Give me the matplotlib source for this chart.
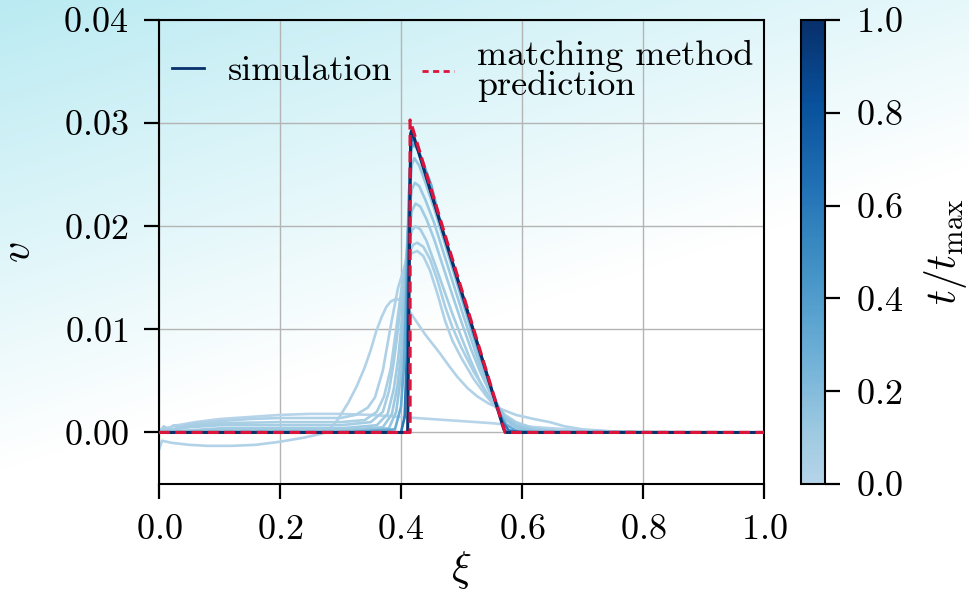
import numpy as np
import matplotlib
matplotlib.use("Agg")
import matplotlib.pyplot as plt
from matplotlib.colors import LinearSegmentedColormap, Normalize
from matplotlib.cm import ScalarMappable

plt.rcParams['font.family'] = ['cmr10', 'DejaVu Serif']
plt.rcParams['mathtext.fontset'] = 'cm'
plt.rcParams['axes.formatter.use_mathtext'] = True

# ---------------- data ----------------
times = [0.0, 0.02, 0.04, 0.06, 0.08, 0.10, 0.12, 0.14, 0.3, 0.6, 1.0]

xi_A = [0, 0.01, 0.03, 0.06, 0.1, 0.15, 0.2, 0.25, 0.3, 0.35, 0.4, 0.45, 0.5, 0.55, 0.6, 0.65, 0.7, 0.75, 0.8, 1.0]
v_A = [0.0002, 0.0004, 0.0007, 0.0010, 0.0013, 0.0015, 0.0017, 0.0018, 0.0018, 0.0017, 0.0015, 0.0013,
       0.0011, 0.0009, 0.0006, 0.0004, 0.0002, 0.0001, 0.0, 0.0]

xi_B = [0, 0.005, 0.02, 0.05, 0.08, 0.12, 0.16, 0.2, 0.24, 0.27, 0.28, 0.295, 0.313, 0.327, 0.34, 0.35, 0.359,
        0.368, 0.376, 0.383, 0.39, 0.396, 0.403, 0.41, 0.425, 0.44, 0.464, 0.48, 0.493, 0.51, 0.526, 0.545,
        0.564, 0.59, 0.62, 0.646, 0.67, 0.70, 0.75, 0.8, 1.0]
v_B = [-0.0017, -0.0008, -0.0010, -0.0012, -0.0013, -0.0013, -0.0012, -0.0009, -0.0005, -0.0001, 0.0002,
       0.0012, 0.0029, 0.0045, 0.0063, 0.0080, 0.0098, 0.0112, 0.0122, 0.0127, 0.0129, 0.0129, 0.0126,
       0.0121, 0.0108, 0.0095, 0.0077, 0.0064, 0.0054, 0.0043, 0.0035, 0.0028, 0.0023, 0.0017, 0.0013,
       0.0010, 0.0006, 0.0003, 0.0001, 0.0, 0.0]

xi_I1 = [0, 0.008, 0.016, 0.024, 0.035, 0.06, 0.1, 0.15, 0.2, 0.25, 0.3, 0.325, 0.345, 0.357, 0.37, 0.382,
         0.395, 0.408, 0.418, 0.427, 0.437, 0.448, 0.46, 0.473, 0.485, 0.5, 0.52, 0.54, 0.556, 0.572, 0.59,
         0.62, 0.66, 0.7, 1.0]
v_I1 = [0.0000, 0.0006, 0.0002, 0.0007, 0.0006, 0.0009, 0.0011, 0.0013, 0.0014, 0.0014, 0.0014, 0.0017,
        0.0024, 0.0034, 0.0060, 0.0100, 0.0140, 0.0165, 0.0174, 0.0176, 0.0171, 0.0157, 0.0135, 0.0108,
        0.0089, 0.0072, 0.0052, 0.0036, 0.0025, 0.0016, 0.0009, 0.0004, 0.0001, 0.0, 0.0]

xi_I2 = [0, 0.01, 0.02, 0.03, 0.05, 0.1, 0.2, 0.3, 0.34, 0.36, 0.372, 0.383, 0.392, 0.402, 0.412, 0.42,
         0.427, 0.437, 0.448, 0.46, 0.473, 0.485, 0.5, 0.52, 0.54, 0.556, 0.572, 0.59, 0.62, 0.66, 0.7, 1.0]
v_I2 = [0.0001, 0.0005, 0.0001, 0.0005, 0.0007, 0.0009, 0.0010, 0.0010, 0.0012, 0.0020, 0.0035, 0.0062,
        0.0100, 0.0145, 0.0172, 0.0182, 0.0184, 0.0180, 0.0168, 0.0148, 0.0122, 0.0102, 0.0082, 0.0059,
        0.0040, 0.0027, 0.0017, 0.0010, 0.0004, 0.0001, 0.0, 0.0]

xi_I3 = [0, 0.05, 0.1, 0.2, 0.3, 0.35, 0.37, 0.38, 0.388, 0.395, 0.403, 0.411, 0.418, 0.424, 0.432, 0.442,
         0.455, 0.47, 0.485, 0.5, 0.515, 0.53, 0.545, 0.56, 0.572, 0.59, 0.62, 0.66, 0.7, 1.0]
v_I3 = [0.0001, 0.0005, 0.0007, 0.0007, 0.0007, 0.0010, 0.0020, 0.0040, 0.0068, 0.0100, 0.0145, 0.0180,
        0.0196, 0.0200, 0.0197, 0.0186, 0.0165, 0.0140, 0.0115, 0.0092, 0.0070, 0.0050, 0.0034, 0.0022,
        0.0015, 0.0008, 0.0003, 0.0001, 0.0, 0.0]

xi_I4 = [0, 0.1, 0.2, 0.3, 0.36, 0.378, 0.388, 0.395, 0.4, 0.406, 0.412, 0.418, 0.424, 0.432, 0.442, 0.455,
         0.47, 0.485, 0.5, 0.515, 0.53, 0.545, 0.56, 0.572, 0.59, 0.62, 0.66, 1.0]
v_I4 = [0.0, 0.0004, 0.0004, 0.0004, 0.0007, 0.0018, 0.0042, 0.0070, 0.0100, 0.0145, 0.0190, 0.0215,
        0.0222, 0.0219, 0.0207, 0.0187, 0.0160, 0.0133, 0.0107, 0.0082, 0.0060, 0.0041, 0.0025, 0.0015,
        0.0007, 0.0002, 0.0, 0.0]

xi_I5 = [0, 0.1, 0.2, 0.3, 0.37, 0.385, 0.394, 0.4, 0.403, 0.408, 0.413, 0.418, 0.423, 0.43, 0.44, 0.455,
         0.47, 0.485, 0.5, 0.515, 0.53, 0.545, 0.56, 0.572, 0.59, 0.62, 0.66, 1.0]
v_I5 = [0.0, 0.0002, 0.0002, 0.0002, 0.0005, 0.0018, 0.0045, 0.0075, 0.0100, 0.0160, 0.0212, 0.0236,
        0.0242, 0.0239, 0.0226, 0.0203, 0.0175, 0.0147, 0.0119, 0.0092, 0.0066, 0.0044, 0.0026, 0.0014,
        0.0006, 0.0002, 0.0, 0.0]

xi_I6 = [0, 0.1, 0.2, 0.3, 0.38, 0.392, 0.4, 0.404, 0.406, 0.41, 0.414, 0.418, 0.422, 0.43, 0.44, 0.455,
         0.47, 0.485, 0.5, 0.515, 0.53, 0.545, 0.56, 0.572, 0.59, 0.62, 1.0]
v_I6 = [0.0, 0.0001, 0.0001, 0.0001, 0.0004, 0.0020, 0.0055, 0.0080, 0.0100, 0.0170, 0.0230, 0.0260,
        0.0266, 0.0259, 0.0243, 0.0217, 0.0188, 0.0159, 0.0130, 0.0101, 0.0073, 0.0047, 0.0026, 0.0013,
        0.0005, 0.0001, 0.0]

xi_I7 = [0, 0.3, 0.39, 0.400, 0.405, 0.409, 0.413, 0.417, 0.421, 0.43, 0.45, 0.47, 0.5, 0.53, 0.55, 0.565,
         0.575, 0.59, 0.62, 1.0]
v_I7 = [0.0, 0.0, 0.0003, 0.0025, 0.0065, 0.0140, 0.0230, 0.0275, 0.0280, 0.0272, 0.0240, 0.0192, 0.0133,
        0.0076, 0.0040, 0.0016, 0.0007, 0.0002, 0.0, 0.0]

xi_I8 = [0, 0.4, 0.406, 0.41, 0.413, 0.416, 0.419, 0.43, 0.47, 0.5, 0.53, 0.555, 0.568, 0.578, 0.6, 1.0]
v_I8 = [0.0, 0.0, 0.0015, 0.0080, 0.0200, 0.0278, 0.0288, 0.0271, 0.0193, 0.0136, 0.0079, 0.0032, 0.0010,
        0.0002, 0.0, 0.0]

xi_final = [0, 0.411, 0.413, 0.416, 0.418, 0.570, 0.574, 1.0]
v_final = [0.0, 0.0, 0.0120, 0.0290, 0.0293, 0.0003, 0.0, 0.0]

sim_xi = [xi_A, xi_B, xi_I1, xi_I2, xi_I3, xi_I4, xi_I5, xi_I6, xi_I7, xi_I8, xi_final]
sim_v = [v_A, v_B, v_I1, v_I2, v_I3, v_I4, v_I5, v_I6, v_I7, v_I8, v_final]

pred_xi = [0.0, 0.415, 0.415, 0.572, 1.0]
pred_v = [0.0, 0.0, 0.0303, 0.0, 0.0]

xticks = [0.0, 0.2, 0.4, 0.6, 0.8, 1.0]
yticks = [0.00, 0.01, 0.02, 0.03, 0.04]
cticks = [0.0, 0.2, 0.4, 0.6, 0.8, 1.0]

# ---------------- figure ----------------
W, H = 969, 606
fig = plt.figure(figsize=(W / 100, H / 100), dpi=100)
fig.patch.set_facecolor('white')

# background gradient (cyan top-left fading to white)
bg = fig.add_axes([0, 0, 1, 1], zorder=-10)
yy, xx = np.mgrid[0:H, 0:W]
s = np.clip(xx / 1500.0 + yy / 470.0, 0, 1)
c0 = np.array([0.73, 0.92, 0.95])
c1 = np.array([1.0, 1.0, 1.0])
img = c0[None, None, :] * (1 - s[..., None]) + c1[None, None, :] * s[..., None]
bg.imshow(img, aspect='auto', extent=[0, 1, 0, 1], origin='upper')
bg.set_axis_off()

ax = fig.add_axes([159 / W, 1 - 484 / H, (764 - 159) / W, (484 - 20) / H])
ax.set_facecolor('none')

base = plt.get_cmap('Blues')
cmap = LinearSegmentedColormap.from_list('blues_tr', base(np.linspace(0.3, 1.0, 256)))
norm = Normalize(0, 1)

for t, x, v in zip(times, sim_xi, sim_v):
    lw = 2.2 if t >= 0.99 else 1.9
    ax.plot(x, v, color=cmap(norm(t)), lw=lw, zorder=2 + t,
            solid_joinstyle='round', solid_capstyle='round')

ax.plot(pred_xi, pred_v, color='#dc143c', lw=2.3, ls=(0, (3.4, 1.7)), zorder=5)

ax.set_xlim(0, 1)
ax.set_ylim(-0.005, 0.04)
ax.set_xticks(xticks)
ax.set_yticks(yticks)
ax.xaxis.set_major_formatter(matplotlib.ticker.FuncFormatter(lambda x, p: r'$%.1f$' % x))
ax.yaxis.set_major_formatter(matplotlib.ticker.FuncFormatter(lambda x, p: r'$%.2f$' % x))
ax.grid(True, color='#b4b4b4', lw=1.0, zorder=0)
ax.set_axisbelow(True)
for sp in ax.spines.values():
    sp.set_linewidth(1.5)
ax.tick_params(axis='both', which='major', labelsize=26, length=11, width=1.6, pad=11, direction='out')
ax.set_xlabel(r'$\xi$', fontsize=30, labelpad=2)
ax.set_ylabel(r'$v$', fontsize=30, labelpad=18)

# legend (two entries placed side by side)
h_sim, = ax.plot([], [], color=cmap(1.0), lw=2.0)
h_pred, = ax.plot([], [], color='#dc143c', lw=2.0, ls=(0, (2.2, 1.6)))
common = dict(frameon=False, fontsize=26, handlelength=0.89, handletextpad=0.64,
              borderpad=0, borderaxespad=0, loc='center left')
leg1 = ax.legend([h_sim], ['simulation'], bbox_to_anchor=(0.0215, 0.890), **common)
ax.add_artist(leg1)
leg2 = ax.legend([h_pred], ['matching method\nprediction'], bbox_to_anchor=(0.4347, 0.890), **common)
for t in leg2.get_texts():
    t.set_linespacing(0.92)

# colorbar
cax = fig.add_axes([801 / W, 1 - 484 / H, (825 - 801) / W, (484 - 20) / H])
sm = ScalarMappable(norm=norm, cmap=cmap)
cb = fig.colorbar(sm, cax=cax, ticks=cticks)
cb.outline.set_linewidth(1.5)
cb.ax.yaxis.set_major_formatter(matplotlib.ticker.FuncFormatter(lambda x, p: r'$%.1f$' % x))
cb.ax.tick_params(labelsize=26, length=11, width=1.6, pad=11)
cb.set_label(r'$t/t_{\max}$', fontsize=30, labelpad=14)

fig.savefig('out.png', dpi=100)
